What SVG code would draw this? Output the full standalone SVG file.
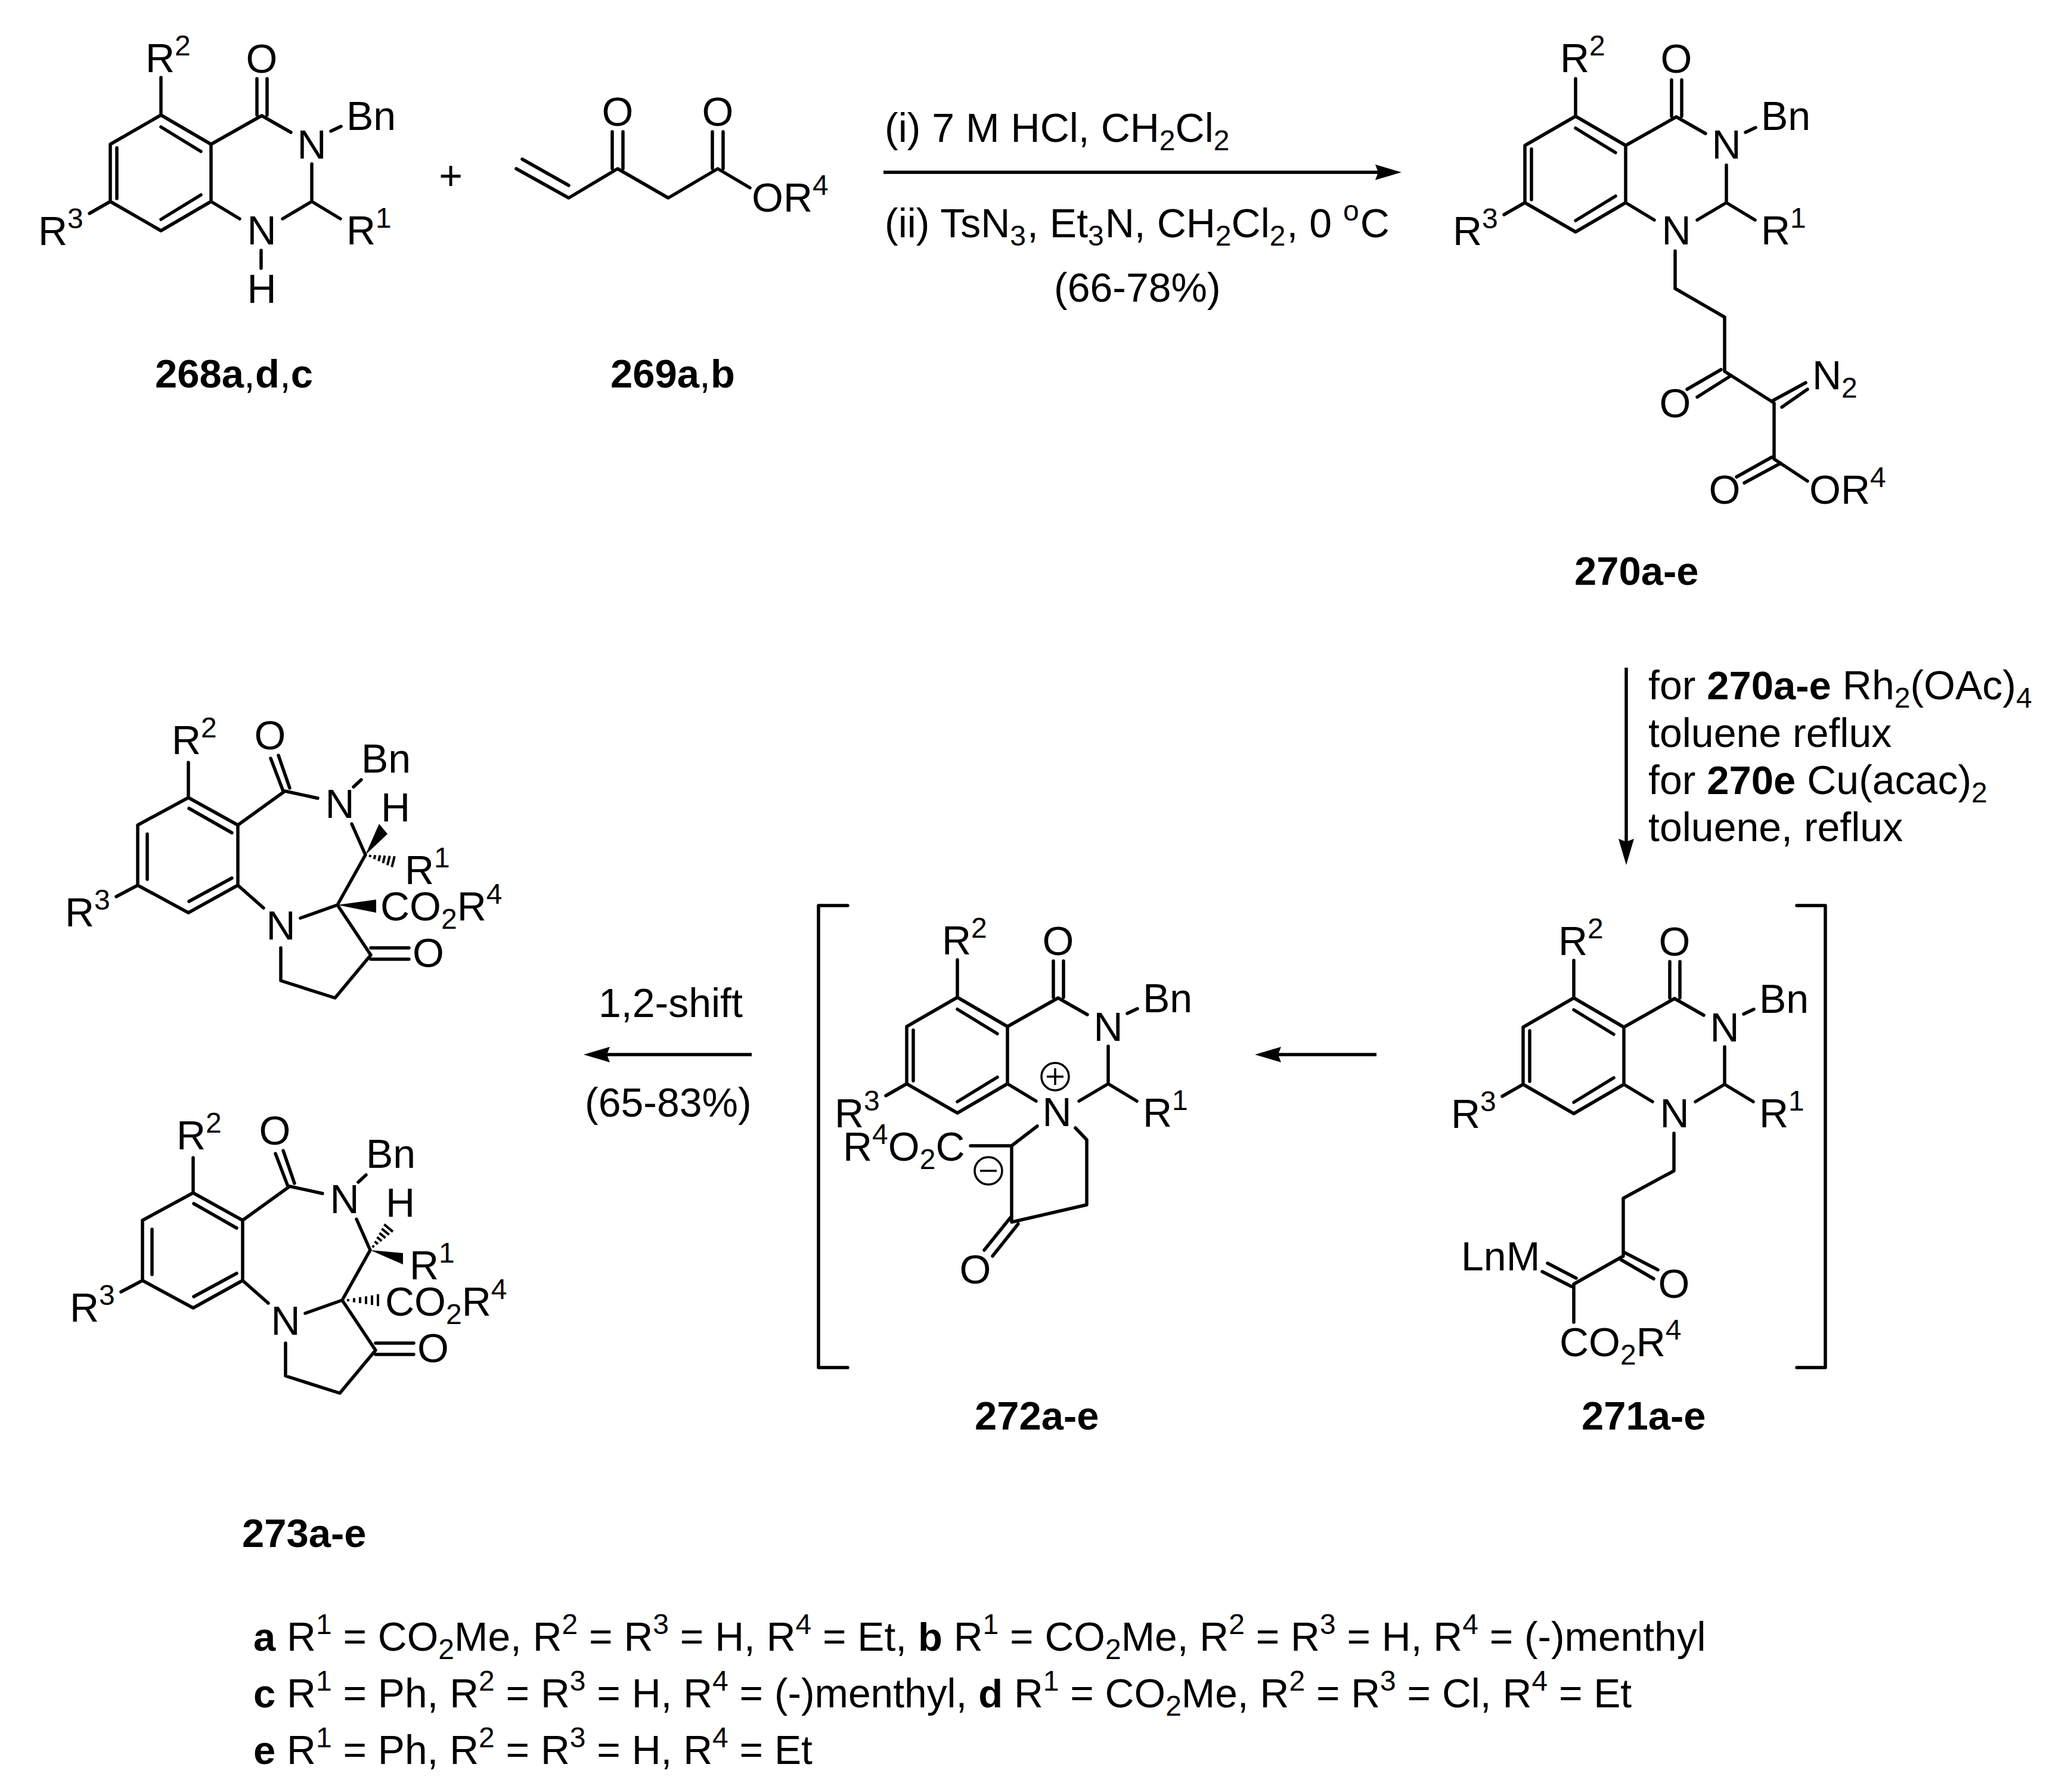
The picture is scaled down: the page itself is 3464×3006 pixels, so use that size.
<svg xmlns="http://www.w3.org/2000/svg" xmlns:xlink="http://www.w3.org/1999/xlink" width="3464" height="3006" viewBox="0 0 3464 3006">
<style>
text{font-family:"Liberation Sans",Arial,sans-serif;font-size:68px;fill:#000}
.m{text-anchor:middle}
.B{font-weight:700;font-size:67px}
.s{font-size:48px}
.l{fill:none;stroke:#000;stroke-width:5.5;stroke-linecap:round;stroke-linejoin:round}
.h{fill:none;stroke:#000;stroke-width:4}
.a{fill:none;stroke:#000;stroke-width:5.5}
.w{fill:#000;stroke:none}
.c{fill:none;stroke:#000;stroke-width:3.5}
#legend text{font-size:67.7px}
#legend .s{font-size:48px}
</style>
<defs>
<marker id="ah" viewBox="0 0 44 26" refX="34" refY="13" markerWidth="44" markerHeight="26" markerUnits="userSpaceOnUse" orient="auto"><path d="M44 13L0 0L5 13L0 26Z" fill="#000"/></marker>
<path id="core" class="l" d="M270 193L354 242L354 338L270 387L185 338L185 242ZM270 213L337 254M196 248L196 333M270 368L337 327M354 242L439 194L488 222M431 132V193M448 132V193M523 275V338L474 367M523 338L571 367M354 338L402 367M185 338L150 358M270 193V130M555 220L572 212"/>
<path id="dz" class="l" d="M316 1338L399 1384L399 1485L316 1531L231 1485L231 1384ZM317 1356L389 1397M247 1399V1475M317 1512L389 1473M399 1384L478 1327L533 1339M454 1272L475 1327M467 1267L486 1322M316 1338V1279M593 1320L606 1308M590 1382L613 1434L566 1518L504 1540M399 1485L442 1523M566 1518L622 1602L562 1674L471 1645V1590M622 1590H686M622 1609H686M231 1485L195 1504"/>
</defs>
<rect width="3464" height="3006" fill="#fff"/>

<g id="connectors">
<line class="a" x1="1482" y1="289" x2="2341" y2="289" marker-end="url(#ah)"/>
<line class="a" x1="2728" y1="1120" x2="2728" y2="1441" marker-end="url(#ah)"/>
<line class="a" x1="2309" y1="1769" x2="2115" y2="1769" marker-end="url(#ah)"/>
<line class="a" x1="1261" y1="1769" x2="989" y2="1769" marker-end="url(#ah)"/>
</g>

<g id="n268">
<use xlink:href="#core" href="#core"/>
<path class="l" d="M438 420V450"/>
<text x="244" y="121">R<tspan class="s" dy="-28">2</tspan></text>
<text class="m" x="439" y="122">O</text>
<text class="m" x="523" y="266">N</text>
<text x="581" y="218">Bn</text>
<text class="m" x="439" y="410">N</text>
<text x="581" y="410">R<tspan class="s" dy="-28">1</tspan></text>
<text x="64" y="411">R<tspan class="s" dy="-28">3</tspan></text>
<text class="m" x="439" y="508">H</text>
<text x="260" y="650"><tspan class="B">268a</tspan>,<tspan class="B">d</tspan>,<tspan class="B">c</tspan></text>
</g>

<g id="plus"><text class="m" x="756" y="318">+</text></g>

<g id="n269">
<path class="l" d="M866 283L954 332L1036 283L1121 332L1204 283L1258 315M876 267L954 311M1027 221V283M1045 221V283M1195 221V283M1213 221V283"/>
<text class="m" x="1036" y="211">O</text>
<text class="m" x="1204" y="211">O</text>
<text x="1261" y="355">OR<tspan class="s" dy="-28">4</tspan></text>
<text x="1024" y="650"><tspan class="B">269a</tspan>,<tspan class="B">b</tspan></text>
</g>

<g id="step1">
<text x="1484" y="238">(i) 7 M HCl, CH<tspan class="s" dy="14">2</tspan><tspan dy="-14">Cl</tspan><tspan class="s" dy="14">2</tspan></text>
<text x="1484" y="398">(ii) TsN<tspan class="s" dy="14">3</tspan><tspan dy="-14" dx="2">, Et</tspan><tspan class="s" dy="14">3</tspan><tspan dy="-14" dx="2">N, CH</tspan><tspan class="s" dy="14">2</tspan><tspan dy="-14">Cl</tspan><tspan class="s" dy="14">2</tspan><tspan dy="-14" dx="2">, 0 </tspan><tspan class="s" dy="-28">o</tspan><tspan dy="28" dx="2">C</tspan></text>
<text x="1768" y="506">(66-78%)</text>
</g>

<g id="n270">
<g transform="translate(2373 2)">
<use xlink:href="#core" href="#core"/>
<text x="244" y="119">R<tspan class="s" dy="-28">2</tspan></text>
<text class="m" x="439" y="120">O</text>
<text class="m" x="523" y="264">N</text>
<text x="581" y="216">Bn</text>
<text class="m" x="439" y="408">N</text>
<text x="581" y="408">R<tspan class="s" dy="-28">1</tspan></text>
<text x="64" y="409">R<tspan class="s" dy="-28">3</tspan></text>
</g>
<path class="l" d="M2810 421V484L2893 532V623L2976 676V770L3032 807M2887 620L2830 653M2904 630L2847 666M2972 673L3029 642M2989 683L3032 653M2972 767L2913 800M2987 777L2926 810"/>
<text class="m" x="2810" y="700">O</text>
<text x="3040" y="653">N<tspan class="s" dy="14">2</tspan></text>
<text class="m" x="2893" y="845">O</text>
<text x="3035" y="845">OR<tspan class="s" dy="-28">4</tspan></text>
<text class="B" x="2641" y="981">270a-e</text>
</g>

<g id="step2">
<text x="2765" y="1173">for <tspan class="B">270a-e</tspan> Rh<tspan class="s" dy="14">2</tspan><tspan dy="-14">(OAc)</tspan><tspan class="s" dy="14">4</tspan></text>
<text x="2765" y="1253">toluene reflux</text>
<text x="2765" y="1332">for <tspan class="B">270e</tspan> Cu(acac)<tspan class="s" dy="14">2</tspan></text>
<text x="2765" y="1411">toluene, reflux</text>
</g>

<g id="n271">
<g transform="translate(2370 1481)">
<use xlink:href="#core" href="#core"/>
<text x="244" y="121">R<tspan class="s" dy="-28">2</tspan></text>
<text class="m" x="439" y="122">O</text>
<text class="m" x="523" y="266">N</text>
<text x="581" y="218">Bn</text>
<text class="m" x="439" y="410">N</text>
<text x="581" y="410">R<tspan class="s" dy="-28">1</tspan></text>
<text x="64" y="411">R<tspan class="s" dy="-28">3</tspan></text>
</g>
<path class="l" d="M2808 1901V1964L2723 2010V2107L2640 2154V2218M2725 2101L2781 2130M2719 2113L2774 2145M2644 2144L2596 2119M2636 2158L2587 2133"/>
<text class="m" x="2808" y="2177">O</text>
<text x="2451" y="2131">LnM</text>
<text x="2616" y="2275">CO<tspan class="s" dy="14">2</tspan><tspan dy="-14">R</tspan><tspan class="s" dy="-28">4</tspan></text>
<path class="l" d="M3014 1519H3062V2294H3014"/>
<text class="B" x="2653" y="2398">271a-e</text>
</g>

<g id="n272">
<g transform="translate(1336 1480)">
<use xlink:href="#core" href="#core"/>
<text x="244" y="121">R<tspan class="s" dy="-28">2</tspan></text>
<text class="m" x="439" y="122">O</text>
<text class="m" x="523" y="266">N</text>
<text x="581" y="218">Bn</text>
<text class="m" x="437" y="409">N</text>
<text x="581" y="410">R<tspan class="s" dy="-28">1</tspan></text>
<text x="64" y="411">R<tspan class="s" dy="-28">3</tspan></text>
</g>
<path class="l" d="M1804 1892L1823 1912V2021L1697 2050V1922L1740 1889M1697 1922H1628M1697 2040L1651 2097M1708 2053L1665 2107"/>
<text x="1414" y="1947">R<tspan class="s" dy="-28">4</tspan><tspan dy="28">O</tspan><tspan class="s" dy="14">2</tspan><tspan dy="-14">C</tspan></text>
<text class="m" x="1636" y="2153">O</text>
<circle class="c" cx="1770" cy="1806" r="23"/>
<path class="c" d="M1756 1806H1784M1770 1792V1820"/>
<circle class="c" cx="1658" cy="1964" r="23"/>
<path class="c" d="M1644 1964H1672"/>
<path class="l" d="M1422 1519H1373V2294H1422"/>
<text class="B" x="1635" y="2398">272a-e</text>
</g>

<g id="shift">
<text x="1004" y="1706">1,2-shift</text>
<text x="981" y="1873">(65-83%)</text>
</g>

<g id="n273a">
<use xlink:href="#dz" href="#dz"/>
<polygon class="w" points="613,1434 636,1382 650,1399"/>
<path class="h" d="M621.3 1434L620.3 1437.8M629.3 1434.4L627.7 1441.2M637.5 1434.8L635.1 1444.6M645.5 1435.3L642.5 1447.9M653.7 1435.7L649.9 1451.3M661.9 1436.2L657.3 1454.6"/>
<polygon class="w" points="566,1518 631,1509 631,1531"/>
<text x="288" y="1265">R<tspan class="s" dy="-28">2</tspan></text>
<text class="m" x="453" y="1257">O</text>
<text class="m" x="570" y="1372">N</text>
<text x="606" y="1296">Bn</text>
<text x="639" y="1378">H</text>
<text x="679" y="1483">R<tspan class="s" dy="-28">1</tspan></text>
<text x="638" y="1544">CO<tspan class="s" dy="14">2</tspan><tspan dy="-14">R</tspan><tspan class="s" dy="-28">4</tspan></text>
<text class="m" x="471" y="1576">N</text>
<text x="692" y="1622">O</text>
<text x="109" y="1554">R<tspan class="s" dy="-28">3</tspan></text>
</g>

<g id="n273b">
<g transform="translate(8 663)">
<use xlink:href="#dz" href="#dz"/>
<path class="h" d="M619.6 1429.1L616.6 1426.5M625.9 1423.9L620.5 1419.5M632.3 1418.7L624.5 1412.3M638.5 1413.6L628.5 1405.2M644.8 1408.3L632.4 1398.1M651 1403.1L636.4 1390.9"/>
<polygon class="w" points="613,1434 668,1439 668,1458"/>
<path class="h" d="M576 1516V1520M586 1514.5V1521.5M596 1513V1523M606 1511.5V1524.5M616 1510V1526M626 1508V1528"/>
<text x="288" y="1265">R<tspan class="s" dy="-28">2</tspan></text>
<text class="m" x="453" y="1257">O</text>
<text class="m" x="570" y="1372">N</text>
<text x="606" y="1296">Bn</text>
<text x="639" y="1378">H</text>
<text x="679" y="1483">R<tspan class="s" dy="-28">1</tspan></text>
<text x="638" y="1544">CO<tspan class="s" dy="14">2</tspan><tspan dy="-14">R</tspan><tspan class="s" dy="-28">4</tspan></text>
<text class="m" x="471" y="1576">N</text>
<text x="692" y="1622">O</text>
<text x="109" y="1554">R<tspan class="s" dy="-28">3</tspan></text>
</g>
<text class="B" x="406" y="2595">273a-e</text>
</g>

<g id="legend">
<text x="425" y="2769"><tspan class="B">a</tspan> R<tspan class="s" dy="-28">1</tspan><tspan dy="28"> = CO</tspan><tspan class="s" dy="14">2</tspan><tspan dy="-14">Me, R</tspan><tspan class="s" dy="-28">2</tspan><tspan dy="28"> = R</tspan><tspan class="s" dy="-28">3</tspan><tspan dy="28"> = H, R</tspan><tspan class="s" dy="-28">4</tspan><tspan dy="28"> = Et, </tspan><tspan class="B">b</tspan> R<tspan class="s" dy="-28">1</tspan><tspan dy="28"> = CO</tspan><tspan class="s" dy="14">2</tspan><tspan dy="-14">Me, R</tspan><tspan class="s" dy="-28">2</tspan><tspan dy="28"> = R</tspan><tspan class="s" dy="-28">3</tspan><tspan dy="28"> = H, R</tspan><tspan class="s" dy="-28">4</tspan><tspan dy="28"> = (-)menthyl</tspan></text>
<text x="425" y="2864"><tspan class="B">c</tspan> R<tspan class="s" dy="-28">1</tspan><tspan dy="28"> = Ph, R</tspan><tspan class="s" dy="-28">2</tspan><tspan dy="28"> = R</tspan><tspan class="s" dy="-28">3</tspan><tspan dy="28"> = H, R</tspan><tspan class="s" dy="-28">4</tspan><tspan dy="28"> = (-)menthyl, </tspan><tspan class="B">d</tspan> R<tspan class="s" dy="-28">1</tspan><tspan dy="28"> = CO</tspan><tspan class="s" dy="14">2</tspan><tspan dy="-14">Me, R</tspan><tspan class="s" dy="-28">2</tspan><tspan dy="28"> = R</tspan><tspan class="s" dy="-28">3</tspan><tspan dy="28"> = Cl, R</tspan><tspan class="s" dy="-28">4</tspan><tspan dy="28"> = Et</tspan></text>
<text x="425" y="2959"><tspan class="B">e</tspan> R<tspan class="s" dy="-28">1</tspan><tspan dy="28"> = Ph, R</tspan><tspan class="s" dy="-28">2</tspan><tspan dy="28"> = R</tspan><tspan class="s" dy="-28">3</tspan><tspan dy="28"> = H, R</tspan><tspan class="s" dy="-28">4</tspan><tspan dy="28"> = Et</tspan></text>
</g>
</svg>
